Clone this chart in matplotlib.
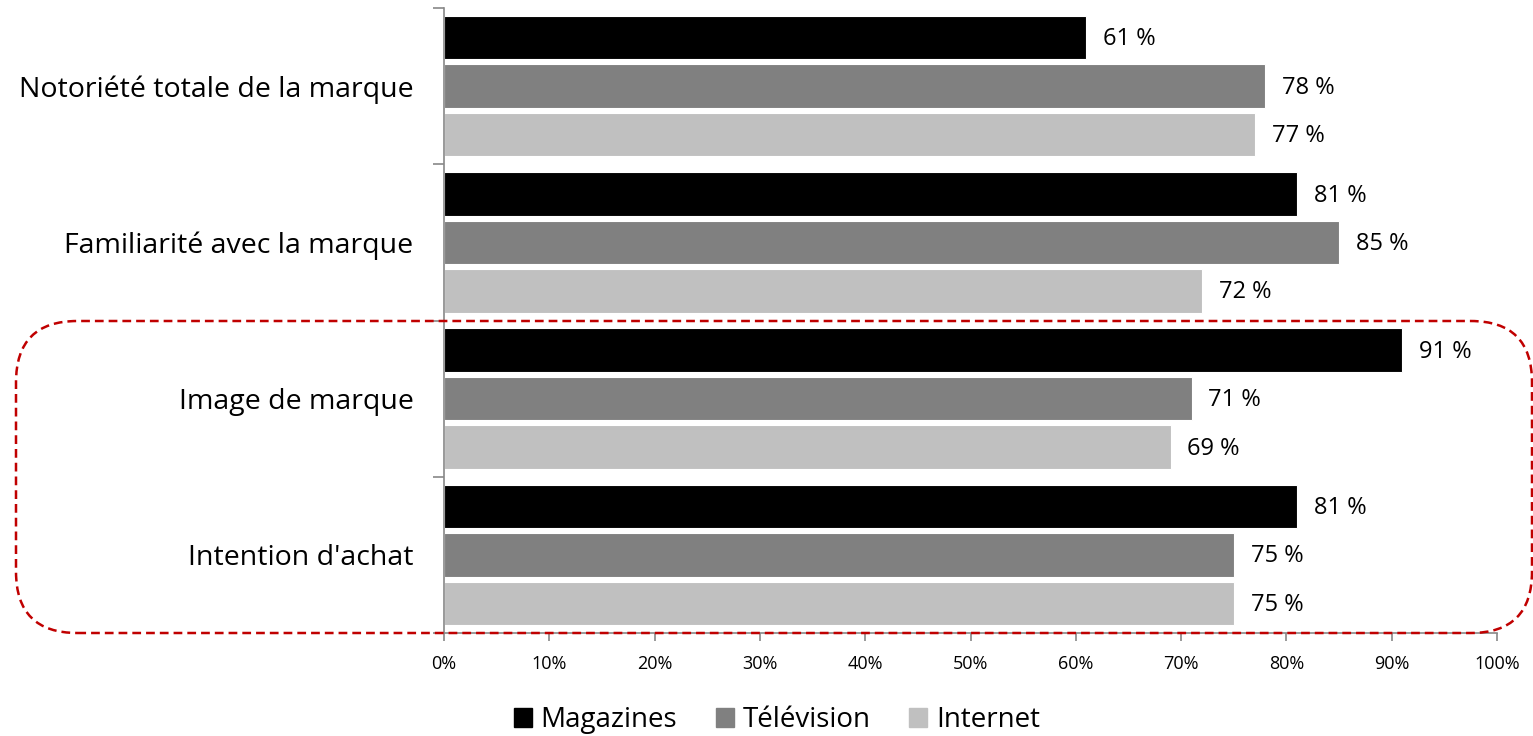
import matplotlib
matplotlib.use("Agg")
import matplotlib.pyplot as plt
from matplotlib.patches import FancyBboxPatch
import numpy as np

categories = ["Notoriété totale de la marque", "Familiarité avec la marque",
              "Image de marque", "Intention d'achat"]
series_names = ["Magazines", "Télévision", "Internet"]
magazines = [61, 81, 91, 81]
television = [78, 85, 71, 75]
internet = [77, 72, 69, 75]
xtick_values = [0, 10, 20, 30, 40, 50, 60, 70, 80, 90, 100]
xtick_labels = [f"{v}%" for v in xtick_values]

colors = ["#000000", "#808080", "#C0C0C0"]
font = "Open Sans"
plt.rcParams["font.family"] = [font, "DejaVu Sans"]

fig = plt.figure(figsize=(15.33, 7.36), dpi=100)
ax = fig.add_axes([444/1533, 1-633/736, (1497-444)/1533, (633-8)/736])

y = np.arange(len(categories))
offsets = [-0.31, 0.0, 0.31]
bh = 0.278
for vals, off, col in zip([magazines, television, internet], offsets, colors):
    bars = ax.barh(y + off, vals, height=bh, color=col, edgecolor="white",
                   linewidth=0.8, zorder=2)
    for b, v in zip(bars, vals):
        ax.text(v + 1.6, b.get_y() + b.get_height()/2 + 0.01, f"{v} %",
                va="center", ha="left", fontsize=17, color="#000000")

ax.set_xlim(0, 100)
ax.set_ylim(3.5, -0.5)
ax.set_xticks(xtick_values)
ax.set_xticklabels(xtick_labels, fontsize=13)
ax.set_yticks(np.arange(-0.5, len(categories), 1.0))
ax.set_yticklabels([])
ax.set_yticks(y, minor=True)
ax.set_yticklabels(categories, minor=True, fontsize=20.5)
ax.tick_params(axis="y", which="minor", length=0, pad=22)
ax.tick_params(axis="y", which="major", length=8, color="#888888", width=1.2)
ax.tick_params(axis="x", which="major", length=6, color="#888888", width=1.2, pad=10)
for s in ["top", "right"]:
    ax.spines[s].set_visible(False)
for s in ["left", "bottom"]:
    ax.spines[s].set_color("#888888")
    ax.spines[s].set_linewidth(1.2)

# red dashed rounded frame highlighting the last two categories
W, H = 1533, 736
x0, y0, x1, y1 = 16, 321, 1532, 633
box = FancyBboxPatch((x0/W, 1-y1/H), (x1-x0)/W, (y1-y0)/H,
                     boxstyle="round,pad=0,rounding_size=0.04",
                     transform=fig.transFigure, fill=False,
                     edgecolor="#C00000", linewidth=1.8, linestyle=(0, (3.5, 2)),
                     mutation_aspect=W/H, zorder=5)
fig.patches.append(box)

handles = [plt.Rectangle((0, 0), 1, 1, color=c) for c in colors]
fig.legend(handles, series_names, loc="center", bbox_to_anchor=(777/W, 1-720/H),
           ncol=3, frameon=False, fontsize=20, handlelength=0.65, handleheight=0.65,
           handletextpad=0.3, columnspacing=1.4)

fig.savefig("out.png", dpi=100)
